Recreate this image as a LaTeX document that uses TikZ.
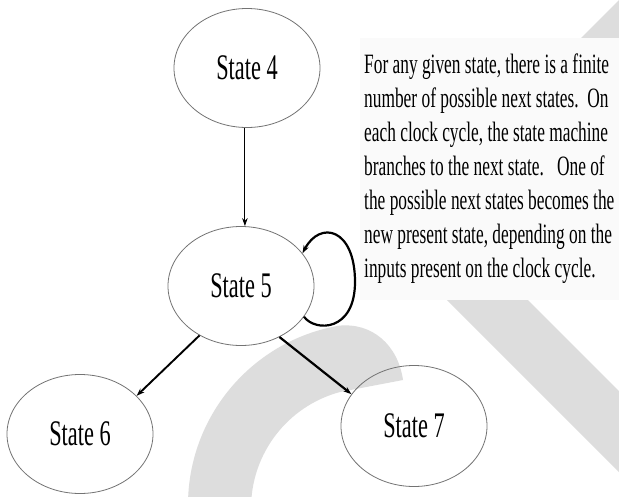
\documentclass[tikz,border=0pt]{standalone}
\usepackage{fontspec}
\setmainfont{Liberation Serif}
\newfontfamily\narrowserif{Liberation Serif}[FakeStretch=0.62]
\usetikzlibrary{arrows.meta,shapes.geometric}
\definecolor{markgray}{RGB}{221,221,221}
\definecolor{rimgray}{RGB}{115,115,115}
\definecolor{notefill}{RGB}{250,250,250}
\begin{document}
\begin{tikzpicture}[x=1pt,y=-1pt,
  statenode/.style={ellipse, draw=rimgray, line width=0.8pt,
    minimum width=146pt, minimum height=119pt, inner sep=0pt,
    font=\narrowserif\fontsize{36}{40}\selectfont},
  link/.style={draw=black, -{Stealth[length=8pt,width=5.5pt]}},
  noteline/.style={anchor=base west, inner sep=0pt,
    font=\narrowserif\fontsize{28}{34}\selectfont}]
\useasboundingbox (0,0) rectangle (619,496);
\fill[white] (0,0) rectangle (619,496);

% light grey background marks
\begin{scope}
  \clip (0,0) rectangle (619,496);
  \fill[markgray] (619,0) -- (383,236) -- (660,513) -- (741,513)
    -- (464,236) -- (700,0) -- cycle;
  \fill[markgray] (188,505) arc[start angle=180, end angle=260, radius=182]
    .. controls (372,322) and (398,345) .. (403,380) -- (340,392)
    arc[start angle=255, end angle=180, radius=120] -- cycle;
\end{scope}

% explanatory note
\node[fill=notefill, anchor=north west, minimum width=259pt,
  minimum height=262pt, inner sep=0pt] (panel) at (360,38) {};
\foreach \txt [count=\i] in {
  {For any given state, there is a finite},
  {number of possible next states.\ \ On},
  {each clock cycle, the state machine},
  {branches to the next state.\ \ \ One of},
  {the possible next states becomes the},
  {new present state, depending on the},
  {inputs present on the clock cycle.}}
  \node[noteline] (line\i) at (364,{73+34*(\i-1)}) {\txt};

% states
\node[statenode] (s4) at (247,68) {State 4};
\node[statenode] (s5) at (241,286) {State 5};
\node[statenode] (s6) at (80,434) {State 6};
\node[statenode, minimum height=121pt] (s7) at (414,426) {State 7};

% transitions
\draw[link, line width=0.9pt] (s4.268) -- (s4.268 |- s5.north);
\draw[link, line width=1.9pt] (s5.230) -- (s6.34);
\draw[link, line width=2.2pt] (s5.-53) -- (s7.153);
\draw[link, line width=2.2pt] (s5.-26)
  .. controls (315,332) and (355,332) .. (355,282)
  .. controls (355,228) and (320,220) .. (s5.28);
\end{tikzpicture}
\end{document}
